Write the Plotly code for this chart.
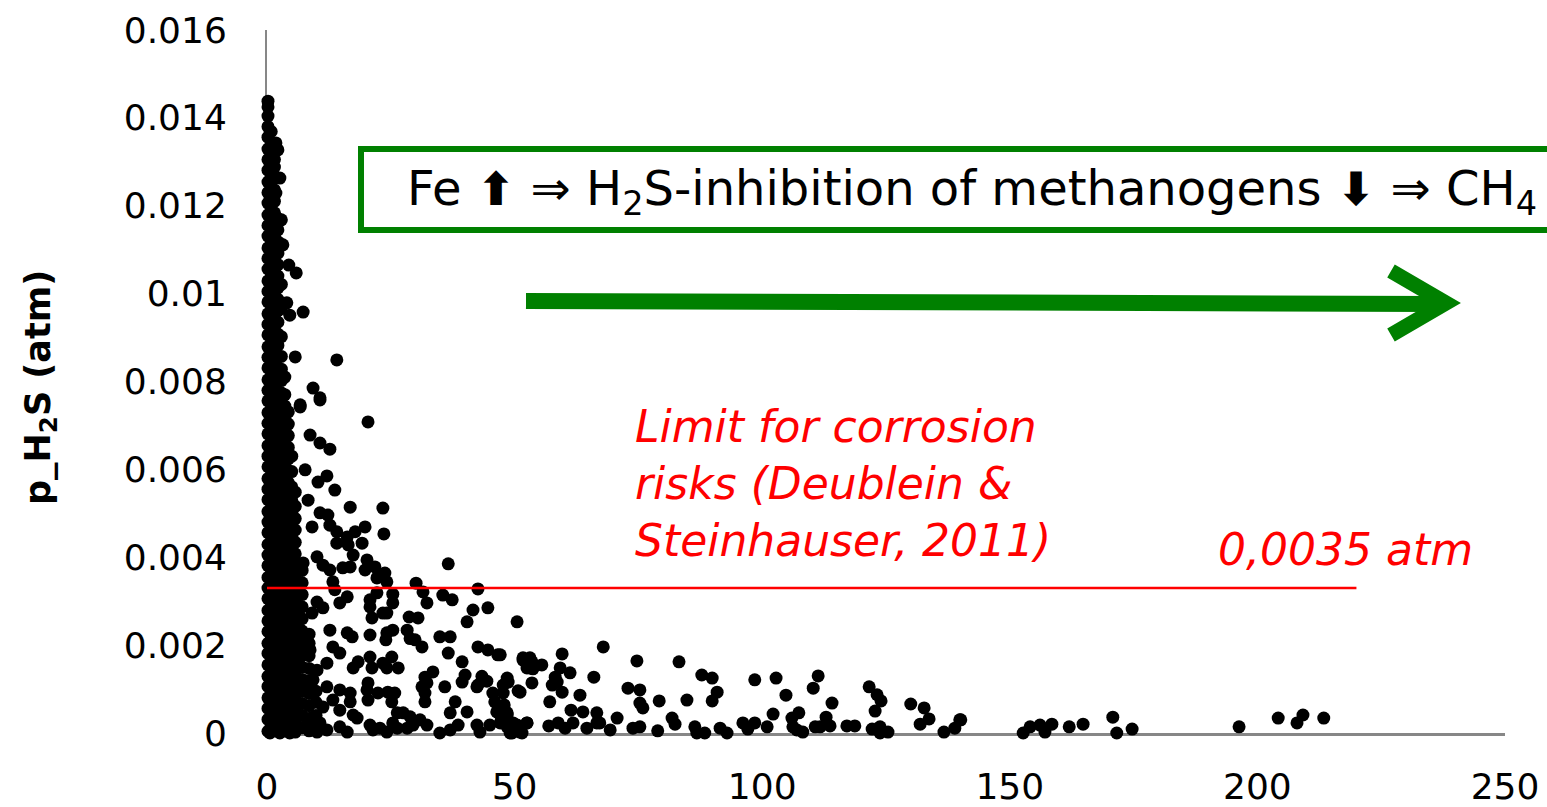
import plotly.graph_objects as go

# ---------------- data (p_H2S in 1e-3 atm) ----------------
x_ticks = [0, 50, 100, 150, 200, 250]
y_ticks = [0, 0.002, 0.004, 0.006, 0.008, 0.010, 0.012, 0.014, 0.016]
y_ticktext = ["0", "0.002", "0.004", "0.006", "0.008", "0.01", "0.012", "0.014", "0.016"]

# dense band of points close to x = 0
band_x = [0.2, 0.85, 1.5, 2.2, 2.9, 3.6, 4.3, 5.0, 5.7, 7.1, 8.5, 9.9]
band_y = [
    [0.04, 0.31, 0.56, 0.80, 1.06, 1.29, 1.55, 1.81, 2.04, 2.31, 2.55, 2.79, 3.06, 3.30, 3.54, 3.81,
     4.05, 4.29, 4.56, 4.80, 5.04, 5.31, 5.55, 5.79, 6.06, 6.30, 6.54, 6.81, 7.05, 7.29, 7.56, 7.80,
     8.04, 8.31, 8.55, 8.79, 9.06, 9.30, 9.54, 9.81, 10.05, 10.29, 10.56, 10.80, 11.04, 11.31, 11.55,
     11.79, 12.06, 12.30, 12.54, 12.81, 13.05, 13.29, 13.56, 13.80, 14.04, 14.25, 14.38],
    [0.17, 0.43, 0.69, 0.94, 1.19, 1.45, 1.70, 1.96, 2.21, 2.47, 2.72, 2.98, 3.23, 3.49, 3.74, 4.00,
     4.25, 4.51, 4.76, 5.02, 5.27, 5.53, 5.78, 6.04, 6.29, 6.55, 6.80, 7.06, 7.31, 7.57, 7.82, 8.08,
     8.33, 8.59, 8.84, 9.10, 9.35, 9.61, 9.86, 10.12, 10.37, 10.63, 10.88, 11.14, 11.39, 11.65, 11.90,
     12.16, 12.41, 12.67, 12.92, 13.18, 13.43, 13.69],
    [0.12, 0.40, 0.66, 0.92, 1.18, 1.44, 1.70, 1.96, 2.22, 2.48, 2.74, 3.00, 3.26, 3.52, 3.78, 4.04,
     4.30, 4.56, 4.82, 5.08, 5.34, 5.60, 5.86, 6.12, 6.38, 6.64, 6.90, 7.16, 7.42, 7.68, 7.94, 8.20,
     8.46, 8.72, 8.98, 9.24, 9.50, 9.76, 10.02, 10.28, 10.54, 10.80, 11.06, 11.32, 11.58, 11.84, 12.10,
     12.36, 12.62, 12.88, 13.05],
    [0.16, 0.42, 0.68, 0.95, 1.21, 1.47, 1.73, 2.00, 2.26, 2.52, 2.78, 3.05, 3.31, 3.57, 3.83, 4.10,
     4.36, 4.62, 4.88, 5.15, 5.41, 5.67, 5.93, 6.20, 6.46, 6.72, 6.98, 7.25, 7.51, 7.77, 8.03, 8.30,
     8.56, 8.82, 9.08, 9.35, 9.61, 9.87, 10.13, 10.40, 10.66, 10.92, 11.18, 11.45, 11.71],
    [0.03, 0.28, 0.55, 0.81, 1.09, 1.34, 1.62, 1.88, 2.15, 2.41, 2.69, 2.94, 3.22, 3.48, 3.75, 4.01,
     4.29, 4.54, 4.82, 5.08, 5.35, 5.61, 5.89, 6.14, 6.42, 6.68, 6.95, 7.21, 7.49, 7.74, 8.02, 8.28,
     8.57, 9.02, 9.66, 10.21, 11.12, 11.68],
    [0.15, 0.42, 0.68, 0.96, 1.22, 1.49, 1.75, 2.09, 2.35, 2.62, 2.88, 3.16, 3.42, 3.69, 3.95, 4.23,
     4.49, 4.76, 5.02, 5.30, 5.56, 5.83, 6.09, 6.37, 6.63, 6.90, 7.16, 7.44, 7.70, 8.10],
    [0.08, 0.35, 0.61, 0.89, 1.15, 1.42, 1.68, 1.96, 2.22, 2.49, 2.75, 3.03, 3.29, 3.56, 3.82, 4.10,
     4.36, 4.63, 4.89, 5.17, 5.43, 5.70, 5.96, 6.24, 6.50, 6.77, 7.03, 7.31],
    [0.15, 0.43, 0.70, 0.97, 1.24, 1.51, 1.78, 2.05, 2.32, 2.59, 2.86, 3.13, 3.40, 3.67, 3.94, 4.21,
     4.48, 4.75, 5.02, 5.29, 5.60, 5.95, 6.30],
    [0.02, 0.29, 0.57, 0.84, 1.10, 1.38, 1.64, 1.92, 2.18, 2.46, 2.72, 3.00, 3.26, 3.54, 3.80, 4.08,
     4.34, 4.62, 4.88, 5.16, 5.48],
    [0.12, 0.40, 0.67, 0.95, 1.22, 1.50, 1.77, 2.05, 2.32, 2.60, 2.87, 3.15, 3.42, 3.70],
    [0.05, 0.33, 0.62, 0.90, 1.19, 1.47, 1.76, 2.04, 2.25],
    [0.10, 0.40, 0.70, 0.95],
]

# individual points (x, p_H2S in 1e-3 atm)
points_near = [
    (1.8, 13.43), (2.2, 13.27), (2.6, 12.63), (1.8, 12.29), (3.2, 11.11), (4.4, 10.65), (5.9, 10.47),
    (4.0, 9.79), (4.6, 9.51), (7.3, 9.58), (5.7, 8.56), (14.1, 8.49), (9.3, 7.85), (10.7, 7.63),
    (6.7, 7.47),
]
points_low_x = [
    (10.7, 7.58), (6.7, 7.42), (20.4, 7.08), (8.7, 6.78), (10.7, 6.60), (12.7, 6.46), (7.7, 5.99),
    (12.1, 5.85), (10.3, 5.71), (13.7, 5.53), (8.3, 5.30), (16.8, 5.14), (23.4, 5.12), (10.7, 5.01),
    (12.3, 4.96), (12.7, 4.73), (14.1, 4.58), (19.8, 4.69), (17.8, 4.58), (23.6, 4.53), (16.2, 4.46),
    (14.1, 4.32), (16.4, 4.28), (19.2, 4.32), (9.1, 4.69), (17.4, 4.05), (10.1, 4.01), (7.3, 3.87),
    (11.3, 3.82), (12.7, 3.71), (20.2, 3.94), (21.8, 3.78), (23.8, 3.64), (15.3, 3.76), (16.8, 3.78),
    (19.8, 3.71), (36.6, 3.85), (22.2, 3.53), (24.2, 3.44), (13.3, 3.44), (13.7, 3.26), (30.1, 3.41),
    (31.5, 3.21), (35.5, 3.14), (37.4, 3.03), (42.6, 3.28), (22.2, 3.19), (25.4, 3.16), (16.2, 3.10),
    (14.7, 2.96), (11.3, 2.85), (20.8, 3.03), (20.8, 2.87), (25.4, 2.96), (24.2, 2.73), (32.3, 2.96),
    (41.6, 2.80), (44.6, 2.85), (10.1, 2.98), (9.1, 2.73), (21.2, 2.62), (23.4, 2.73), (28.7, 2.64),
    (30.5, 2.62), (40.4, 2.53), (50.5, 2.53), (6.7, 2.34), (12.7, 2.34), (16.2, 2.28), (17.2, 2.19),
    (20.8, 2.23), (24.2, 2.28), (25.4, 2.34), (28.3, 2.34), (28.9, 2.15), (29.9, 2.12), (31.3, 1.96),
    (34.9, 2.19), (37.0, 2.19), (24.0, 2.12), (42.6, 1.96), (44.6, 1.89), (46.6, 1.78), (36.6, 1.82),
    (6.7, 1.82), (8.7, 1.89), (13.3, 1.96), (14.7, 1.82), (20.8, 1.73), (25.2, 1.73), (39.4, 1.62),
    (51.7, 1.71), (53.5, 1.62), (53.1, 1.48), (18.4, 1.62), (17.4, 1.48), (12.1, 1.59), (10.1, 1.43),
    (21.2, 1.48), (23.4, 1.59), (24.2, 1.48), (26.5, 1.48), (33.5, 1.39), (31.9, 1.27), (32.3, 1.14),
    (40.0, 1.32), (39.4, 1.16), (43.4, 1.29), (44.4, 1.18), (42.6, 1.09), (48.5, 1.16), (47.7, 1.09),
    (51.1, 0.93), (53.5, 1.14), (8.1, 1.05), (9.3, 1.21), (12.1, 1.05), (14.7, 0.98), (16.8, 0.91),
    (20.4, 1.14), (20.2, 0.98), (22.4, 0.91), (24.4, 0.93), (25.8, 0.91), (25.2, 0.71), (20.4, 0.75),
    (31.9, 0.91), (31.3, 1.05), (31.9, 0.71), (35.9, 1.05), (37.0, 0.46), (38.0, 0.71), (40.4, 0.48),
    (42.4, 1.05), (45.6, 0.91), (46.0, 0.71), (46.4, 0.48), (48.5, 0.46), (47.1, 0.41), (47.7, 0.25),
    (11.3, 0.59), (13.3, 0.75), (16.8, 0.71), (14.7, 0.52), (17.4, 0.41), (18.2, 0.34), (26.3, 0.46),
    (27.5, 0.46), (28.9, 0.37), (30.9, 0.30), (32.3, 0.18), (25.4, 0.23), (22.8, 0.11), (20.8, 0.18),
    (21.4, 0.07), (24.2, 0.02), (26.3, 0.11), (28.3, 0.11), (29.5, 0.18), (34.9, 0.00), (37.0, 0.07),
    (38.6, 0.18), (42.4, 0.18), (43.0, 0.02), (45.0, 0.18), (47.1, 0.23), (48.5, 0.14), (50.5, 0.18),
    (52.5, 0.23), (51.1, 0.02), (49.1, 0.00), (9.3, 0.36), (10.7, 0.23), (8.1, 0.18), (12.1, 0.07),
    (16.2, 0.02), (14.7, 0.14), (6.1, 0.14), (2.6, 0.00), (0.6, 0.00), (4.6, 0.00), (10.1, 0.02),
]
points_mid_x = [
    (47.1, 1.78), (51.7, 1.66), (53.1, 1.71), (52.5, 1.48), (53.7, 1.46), (55.5, 1.55), (59.6, 1.80),
    (59.2, 1.48), (58.2, 1.27), (58.6, 1.16), (57.6, 1.09), (59.6, 0.93), (61.2, 1.37), (67.9, 1.96),
    (48.5, 1.25), (48.7, 1.16), (50.7, 0.96), (47.7, 0.91), (47.9, 0.64), (48.5, 0.41),
    (57.1, 0.71), (63.2, 0.86), (66.0, 1.27), (61.4, 0.52), (63.8, 0.48), (66.6, 0.46), (70.7, 0.34),
    (67.2, 0.23), (69.3, 0.07), (74.7, 1.64), (72.9, 1.02), (75.3, 0.98), (75.3, 0.68), (75.9, 0.57),
    (79.2, 0.73), (83.2, 1.62), (84.8, 0.75), (87.8, 1.32), (89.9, 1.25), (90.9, 0.93), (89.9, 0.73),
    (81.8, 0.34), (82.4, 0.20), (78.9, 0.05), (73.9, 0.11), (75.3, 0.14), (86.4, 0.14), (86.8, 0.00),
    (88.4, 0.00), (91.5, 0.11), (92.9, 0.00), (96.1, 0.23), (97.1, 0.09), (98.5, 0.23), (101.0, 0.14),
    (102.2, 0.43), (98.5, 1.21), (102.8, 1.25), (104.8, 0.86), (106.0, 0.34), (106.2, 0.14),
    (107.4, 0.46), (108.2, 0.02), (107.0, 0.07), (110.3, 1.02), (111.3, 1.30), (114.1, 0.68),
    (112.9, 0.36), (111.7, 0.14), (113.7, 0.16), (110.7, 0.14), (117.1, 0.16), (118.7, 0.16),
    (121.6, 1.05), (123.2, 0.87), (124.0, 0.73), (122.8, 0.50), (122.2, 0.09), (123.8, 0.14),
    (123.8, 0.00), (125.4, 0.02), (130.0, 0.66), (132.7, 0.57), (133.7, 0.32), (131.9, 0.20),
    (136.7, 0.02), (138.9, 0.11), (140.1, 0.30), (48.1, 0.23), (49.7, 0.23), (49.5, 0.00),
    (51.5, 0.00), (52.5, 0.23), (56.9, 0.16), (58.8, 0.23), (60.2, 0.11), (61.8, 0.23), (64.6, 0.11),
    (66.6, 0.23),
]
points_high_x = [
    (139.9, 0.30), (152.7, 0.00), (154.1, 0.14), (156.1, 0.18), (157.1, 0.02), (158.5, 0.20),
    (162.0, 0.14), (164.8, 0.20), (170.8, 0.36), (171.6, 0.00), (174.7, 0.09), (196.3, 0.14),
    (204.2, 0.34), (208.0, 0.23), (209.2, 0.41), (213.4, 0.34),
]

limit_y = 0.0033          # drawn limit line (atm)
limit_x_end = 220

# ---------------- assemble ----------------
xs, ys = [], []
for bx, col in zip(band_x, band_y):
    for v in col:
        xs.append(bx)
        ys.append(v / 1000.0)
for group in (points_near, points_low_x, points_mid_x, points_high_x):
    for px_, py_ in group:
        xs.append(px_)
        ys.append(py_ / 1000.0)

W, H = 1547, 807
ML, MR, MT, MB = 267, 42, 30, 74
PW, PH = W - ML - MR, H - MT - MB


def px(xp):
    return (xp - ML) / PW


def py(yp):
    return (H - MB - yp) / PH


fig = go.Figure()
fig.add_trace(go.Scatter(
    x=xs, y=ys, mode="markers",
    marker=dict(color="black", size=13, line=dict(width=0)),
    cliponaxis=False, showlegend=False, hoverinfo="skip",
))

GREEN = "#008000"
fig.update_layout(
    template="none",
    width=W, height=H,
    margin=dict(l=ML, r=MR, t=MT, b=MB, autoexpand=False),
    paper_bgcolor="white", plot_bgcolor="white",
    font=dict(family="DejaVu Sans", color="black"),
    xaxis=dict(
        range=[0, 250], tickvals=x_ticks, ticktext=[str(v) for v in x_ticks],
        showgrid=False, zeroline=False, showline=True, linecolor="#878787", linewidth=3,
        ticks="", tickfont=dict(size=36), automargin=False,
        ticklabelstandoff=20, layer="below traces",
    ),
    yaxis=dict(
        range=[0, 0.016], tickvals=y_ticks, ticktext=y_ticktext,
        showgrid=False, zeroline=False, showline=True, linecolor="#878787", linewidth=2,
        ticks="", tickfont=dict(size=36), ticklabelstandoff=31, automargin=False,
        layer="below traces",
    ),
    shapes=[
        # limit line
        dict(type="line", xref="x", yref="y", x0=0, x1=limit_x_end, y0=limit_y, y1=limit_y,
             line=dict(color="red", width=2.5), layer="above"),
        # green box
        dict(type="rect", xref="paper", yref="paper", x0=px(361), x1=px(1580), y0=py(230), y1=py(149),
             line=dict(color=GREEN, width=6), fillcolor="white", layer="above"),
        # arrow shaft
        dict(type="path", xref="paper", yref="paper",
             path=f"M {px(526)},{py(301)} L {px(1436)},{py(304)}",
             line=dict(color=GREEN, width=16)),
        # arrow head
        dict(type="path", xref="paper", yref="paper",
             path=f"M {px(1391)},{py(271)} L {px(1446)},{py(303)} L {px(1391)},{py(335)}",
             line=dict(color=GREEN, width=15)),
    ],
    annotations=[
        dict(xref="paper", yref="paper", x=px(405), y=py(191), xanchor="left", yanchor="middle",
             showarrow=False, font=dict(size=48, color="black"),
             text="Fe <span style='font-size:46px'><b>⬆</b></span> ⇒ H<sub>2</sub>S-inhibition of methanogens "
                  "<span style='font-size:46px'><b>⬇</b></span> ⇒ CH<sub>4</sub>"),
        dict(xref="paper", yref="paper", x=px(633), y=py(483), xanchor="left", yanchor="middle",
             showarrow=False, align="left", font=dict(size=44, color="red"),
             text="<i>Limit for corrosion<br>risks (Deublein &amp;<br>Steinhauser, 2011)</i>"),
        dict(xref="paper", yref="paper", x=px(1475), y=py(549), xanchor="right", yanchor="middle",
             showarrow=False, font=dict(size=44, color="red"), text="<i>0,0035 atm</i>"),
        dict(xref="paper", yref="paper", x=px(40), y=py(388), xanchor="center", yanchor="middle",
             showarrow=False, textangle=-90, font=dict(size=35, color="black"),
             text="<b>p_H<sub>2</sub>S (atm)</b>"),
    ],
)

fig.write_html("out.html")
